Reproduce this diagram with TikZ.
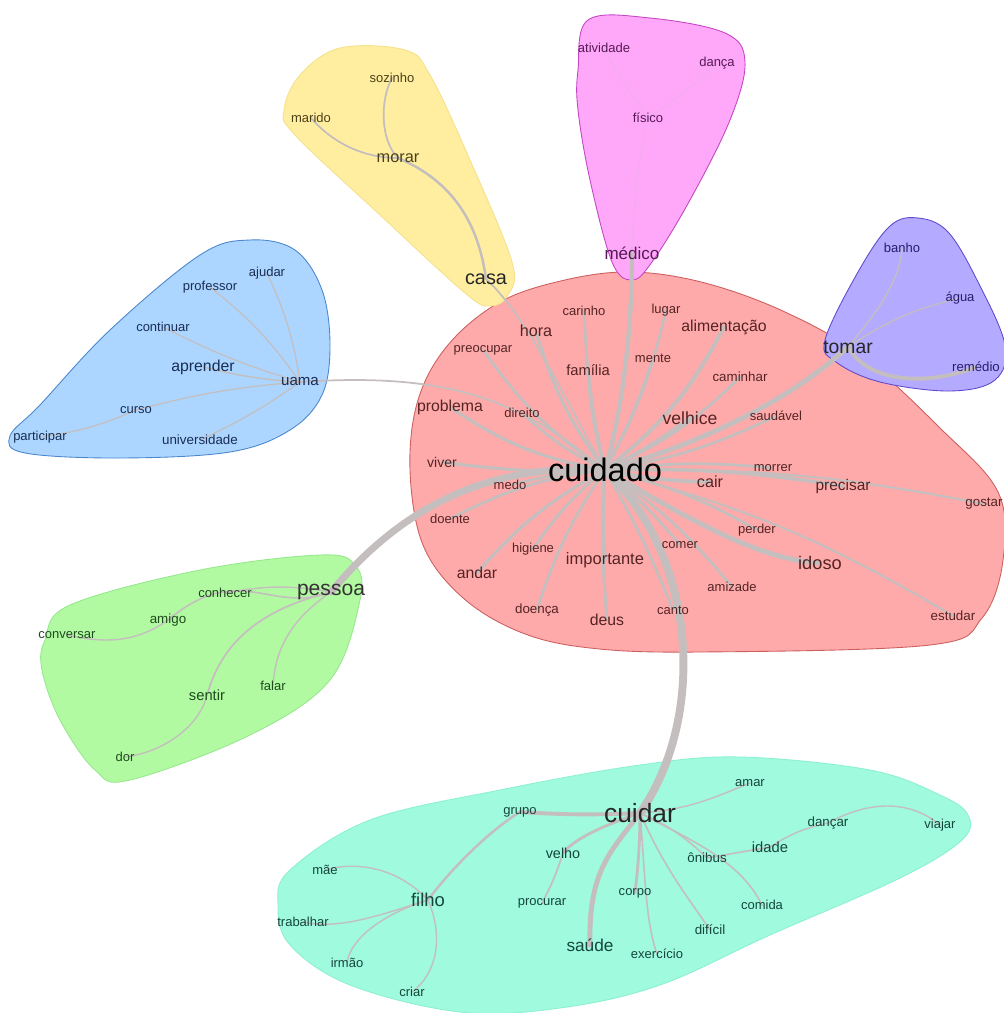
\documentclass[tikz,border=0pt]{standalone}
\usepackage{fontspec}
\setmainfont{Liberation Sans}
\usepackage{tikz}
\pgfdeclarelayer{fundo}
\pgfsetlayers{fundo,main}

\definecolor{verm}{RGB}{255,170,170}
\definecolor{vermb}{RGB}{205,95,95}
\definecolor{verml}{RGB}{85,35,35}
\definecolor{amarelo}{RGB}{255,238,160}
\definecolor{amarelob}{RGB}{245,225,140}
\definecolor{amarelol}{RGB}{75,65,25}
\definecolor{magen}{RGB}{255,168,250}
\definecolor{magenb}{RGB}{195,70,195}
\definecolor{magenl}{RGB}{85,25,85}
\definecolor{roxo}{RGB}{180,170,255}
\definecolor{roxob}{RGB}{95,75,205}
\definecolor{roxol}{RGB}{40,30,105}
\definecolor{azul}{RGB}{172,214,255}
\definecolor{azulb}{RGB}{75,135,205}
\definecolor{azull}{RGB}{25,45,85}
\definecolor{verde}{RGB}{178,250,162}
\definecolor{verdeb}{RGB}{150,232,140}
\definecolor{verdel}{RGB}{30,75,30}
\definecolor{turq}{RGB}{160,250,222}
\definecolor{turqb}{RGB}{140,240,210}
\definecolor{turql}{RGB}{20,70,60}
\definecolor{cinza}{RGB}{196,190,190}

\tikzset{
	tam/.style={font=\fontsize{#1}{#1}\selectfont, inner sep=0.5pt},
	aresta/.style={draw=cinza, line width=#1, line cap=round},
	aresta/.default=0.8pt,
	casco/.style={line width=0.5pt},
}

\begin{document}
\begin{tikzpicture}[x=0.02cm, y=-0.02cm]
	\useasboundingbox (0,0) rectangle (1003,1013);

	%cascos
	\begin{pgfonlayer}{fundo}
	\filldraw[casco, fill=verm, draw=vermb] plot[smooth cycle, tension=0.6] coordinates {(410,470) (418,400) (448,345) (500,302) (565,280) (632,272) (705,283) (785,312) (860,355) (940,428) (998,492) (1003,560) (982,618) (930,645) (700,652) (590,648) (520,632) (462,597) (423,545)};
	\filldraw[casco, fill=amarelo, draw=amarelob] plot[smooth cycle, tension=0.6] coordinates {(284,110) (300,75) (340,48) (405,50) (430,75) (470,160) (512,262) (508,295) (490,306) (465,293) (380,215) (295,135)};
	\filldraw[casco, fill=magen, draw=magenb] plot[smooth cycle, tension=0.6] coordinates {(578,70) (588,20) (650,18) (725,33) (745,62) (730,120) (690,200) (652,262) (632,280) (612,262) (590,180) (578,110)};
	\filldraw[casco, fill=roxo, draw=roxob] plot[smooth cycle, tension=0.6] coordinates {(825,340) (836,362) (880,382) (950,391) (995,380) (1005,345) (978,282) (948,232) (918,218) (890,226) (858,272)};
	\filldraw[casco, fill=azul, draw=azulb] plot[smooth cycle, tension=0.6] coordinates {(10,436) (25,453) (120,458) (230,452) (290,430) (322,395) (330,345) (322,290) (295,250) (250,240) (200,255) (110,330) (40,405)};
	\filldraw[casco, fill=verde, draw=verdeb] plot[smooth cycle, tension=0.6] coordinates {(45,640) (70,605) (200,570) (320,555) (355,565) (360,600) (330,680) (250,735) (130,780) (95,770) (60,720) (42,670)};
	\filldraw[casco, fill=turq, draw=turqb] plot[smooth cycle, tension=0.6] coordinates {(278,905) (290,870) (370,820) (500,790) (640,765) (740,757) (870,770) (940,795) (968,815) (962,840) (900,878) (770,935) (660,985) (560,1008) (460,1012) (350,985) (290,945)};
	\end{pgfonlayer}

	%grupo vermelho
	\begin{scope}[text=verml]
	\node[tam=18.5, text=black] (cuidado)	at (605,470)	{cuidado};
	\node[tam=7.4]	(carinho)		at (584,311)	{carinho};
	\node[tam=7.4]	(lugar)			at (666,310)	{lugar};
	\node[tam=9.2]	(hora)			at (536,331)	{hora};
	\node[tam=9]	(alimentacao)	at (724,327)	{alimentação};
	\node[tam=7.4]	(preocupar)		at (483,350)	{preocupar};
	\node[tam=7.4]	(mente)			at (653,358)	{mente};
	\node[tam=8.4]	(familia)		at (588,370)	{família};
	\node[tam=7.6]	(caminhar)		at (740,377)	{caminhar};
	\node[tam=9]	(problema)		at (450,407)	{problema};
	\node[tam=7.4]	(direito)		at (522,413)	{direito};
	\node[tam=10]	(velhice)		at (690,418)	{velhice};
	\node[tam=7.4]	(saudavel)		at (776,416)	{saudável};
	\node[tam=8]	(viver)			at (442,462)	{viver};
	\node[tam=7.4]	(medo)			at (510,485)	{medo};
	\node[tam=9.2]	(cair)			at (710,482)	{cair};
	\node[tam=7.4]	(morrer)		at (773,468)	{morrer};
	\node[tam=8.8]	(precisar)		at (843,486)	{precisar};
	\node[tam=7.6]	(gostar)		at (984,504)	{gostar};
	\node[tam=7.4]	(doente)		at (450,519)	{doente};
	\node[tam=7.4]	(higiene)		at (533,549)	{higiene};
	\node[tam=9.4]	(importante)	at (605,560)	{importante};
	\node[tam=7.4]	(comer)			at (680,545)	{comer};
	\node[tam=7.4]	(perder)		at (757,530)	{perder};
	\node[tam=10.4]	(idoso)			at (820,563)	{idoso};
	\node[tam=9]	(andar)			at (477,573)	{andar};
	\node[tam=7.4]	(amizade)		at (732,587)	{amizade};
	\node[tam=7.6]	(doenca)		at (537,610)	{doença};
	\node[tam=9]	(deus)			at (607,620)	{deus};
	\node[tam=7.4]	(canto)			at (673,610)	{canto};
	\node[tam=7.6]	(estudar)		at (953,616)	{estudar};
	\end{scope}

	%grupo amarelo
	\begin{scope}[text=amarelol]
	\node[tam=11.3, text=black!85]	(casa)	at (486,279)	{casa};
	\node[tam=9.3]	(morar)			at (398,158)	{morar};
	\node[tam=7.4]	(sozinho)		at (392,78)		{sozinho};
	\node[tam=7.4]	(marido)		at (311,118)	{marido};
	\end{scope}

	%grupo magenta
	\begin{scope}[text=magenl]
	\node[tam=9.7]	(medico)		at (632,253)	{médico};
	\node[tam=7.4]	(fisico)		at (648,118)	{físico};
	\node[tam=7.4]	(atividade)		at (604,48)		{atividade};
	\node[tam=7.4]	(danca)			at (717,63)		{dança};
	\end{scope}

	%grupo roxo
	\begin{scope}[text=roxol]
	\node[tam=11, text=black!85]	(tomar)	at (848,347)	{tomar};
	\node[tam=7.4]	(banho)			at (902,248)	{banho};
	\node[tam=7.4]	(agua)			at (960,298)	{água};
	\node[tam=7.5]	(remedio)		at (976,367)	{remédio};
	\end{scope}

	%grupo azul
	\begin{scope}[text=azull]
	\node[tam=8.6]	(uama)			at (300,382)	{uama};
	\node[tam=7.4]	(ajudar)		at (267,273)	{ajudar};
	\node[tam=7.4]	(professor)		at (210,287)	{professor};
	\node[tam=7.4]	(continuar)		at (163,327)	{continuar};
	\node[tam=9]	(aprender)		at (203,367)	{aprender};
	\node[tam=7.4]	(curso)			at (136,410)	{curso};
	\node[tam=7.4]	(participar)	at (40,437)		{participar};
	\node[tam=7.6]	(universidade)	at (200,440)	{universidade};
	\end{scope}

	%grupo verde
	\begin{scope}[text=verdel]
	\node[tam=12, text=black!80]	(pessoa)	at (331,592)	{pessoa};
	\node[tam=7.4]	(conhecer)		at (225,593)	{conhecer};
	\node[tam=7.6]	(amigo)			at (168,620)	{amigo};
	\node[tam=7.4]	(conversar)		at (67,635)		{conversar};
	\node[tam=8.4]	(sentir)		at (207,695)	{sentir};
	\node[tam=7.4]	(falar)			at (273,686)	{falar};
	\node[tam=7.4]	(dor)			at (125,757)	{dor};
	\end{scope}

	%grupo turquesa
	\begin{scope}[text=turql]
	\node[tam=15, text=black!85]	(cuidar)	at (640,813)	{cuidar};
	\node[tam=7.4]	(grupo)			at (520,812)	{grupo};
	\node[tam=8.2]	(velho)			at (563,853)	{velho};
	\node[tam=7.4]	(mae)			at (325,870)	{mãe};
	\node[tam=10.5]	(filho)			at (428,900)	{filho};
	\node[tam=7.4]	(procurar)		at (542,903)	{procurar};
	\node[tam=7.4]	(corpo)			at (635,893)	{corpo};
	\node[tam=7.4]	(trabalhar)		at (303,922)	{trabalhar};
	\node[tam=9.8]	(saude)			at (590,945)	{saúde};
	\node[tam=7.4]	(irmao)			at (347,963)	{irmão};
	\node[tam=7.4]	(criar)			at (412,992)	{criar};
	\node[tam=7.4]	(amar)			at (750,783)	{amar};
	\node[tam=7.6]	(dancar)		at (828,823)	{dançar};
	\node[tam=7.4]	(viajar)		at (940,825)	{viajar};
	\node[tam=7.6]	(onibus)		at (707,858)	{ônibus};
	\node[tam=8.4]	(idade)			at (770,847)	{idade};
	\node[tam=7.4]	(comida)		at (762,905)	{comida};
	\node[tam=7.6]	(dificil)		at (710,930)	{difícil};
	\node[tam=7.4]	(exercicio)		at (657,954)	{exercício};
	\end{scope}

	%arestas
	\begin{pgfonlayer}{fundo}
	\draw[aresta=4.5pt] (cuidado.center) .. controls (700,560) and (705,720) .. (cuidar.center);
	\draw[aresta=4pt] (cuidado.center) .. controls (480,462) and (395,515) .. (pessoa.center);
	\draw[aresta=2.8pt] (cuidado.center) .. controls (700,445) and (790,400) .. (tomar.center);
	\draw[aresta=2.5pt] (cuidado.center) .. controls (625,400) and (632,320) .. (medico.center);
	\draw[aresta=2.8pt] (cuidado.center) .. controls (690,520) and (760,560) .. (idoso.center);
	\draw[aresta=1pt] (cuidado.center) .. controls (565,400) and (530,320) .. (casa.center);
	\draw[aresta=1pt] (cuidado.center) .. controls (520,400) and (450,372) .. (uama.center);
	\draw[aresta=1.8pt] (cuidado.center) to[bend left=10] (hora.center);
	\draw[aresta=1.6pt] (cuidado.center) to[bend left=5] (carinho.center);
	\draw[aresta=1.6pt] (cuidado.center) to[bend right=8] (lugar.center);
	\draw[aresta=1.6pt] (cuidado.center) to[bend right=5] (mente.center);
	\draw[aresta=2.2pt] (cuidado.center) to[bend right=12] (alimentacao.center);
	\draw[aresta=2.2pt] (cuidado.center) to[bend left=5] (familia.center);
	\draw[aresta=1.6pt] (cuidado.center) to[bend right=10] (caminhar.center);
	\draw[aresta=2.2pt] (cuidado.center) to[bend right=5] (velhice.center);
	\draw[aresta=1.6pt] (cuidado.center) to[bend right=8] (saudavel.center);
	\draw[aresta=1.6pt] (cuidado.center) to[bend left=10] (preocupar.center);
	\draw[aresta=1.8pt] (cuidado.center) to[bend left=12] (problema.center);
	\draw[aresta=1.6pt] (cuidado.center) to[bend left=8] (direito.center);
	\draw[aresta=1.8pt] (cuidado.center) to[bend left=5] (viver.center);
	\draw[aresta=1.6pt] (cuidado.center) to[bend right=5] (medo.center);
	\draw[aresta=2.2pt] (cuidado.center) to[bend right=5] (cair.center);
	\draw[aresta=1.6pt] (cuidado.center) to[bend left=6] (morrer.center);
	\draw[aresta=2pt] (cuidado.center) to[bend left=5] (precisar.center);
	\draw[aresta=1.2pt] (cuidado.center) to[bend left=6] (gostar.center);
	\draw[aresta=1.6pt] (cuidado.center) to[bend right=10] (doente.center);
	\draw[aresta=1.6pt] (cuidado.center) to[bend right=8] (higiene.center);
	\draw[aresta=2.2pt] (cuidado.center) to[bend right=5] (importante.center);
	\draw[aresta=1.6pt] (cuidado.center) to[bend left=5] (comer.center);
	\draw[aresta=1.6pt] (cuidado.center) to[bend left=8] (perder.center);
	\draw[aresta=1.6pt] (cuidado.center) to[bend left=8] (amizade.center);
	\draw[aresta=1.8pt] (cuidado.center) to[bend right=10] (andar.center);
	\draw[aresta=1.6pt] (cuidado.center) to[bend right=8] (doenca.center);
	\draw[aresta=1.8pt] (cuidado.center) to[bend right=4] (deus.center);
	\draw[aresta=1.6pt] (cuidado.center) to[bend left=4] (canto.center);
	\draw[aresta=1.2pt] (cuidado.center) to[bend left=8] (estudar.center);

	%amarelo
	\draw[aresta=1.4pt] (casa.center) .. controls (478,220) and (450,180) .. (morar.center);
	\draw[aresta=1pt] (morar.center) .. controls (380,140) and (380,100) .. (sozinho.center);
	\draw[aresta=1pt] (morar.center) .. controls (360,158) and (330,140) .. (marido.center);

	%magenta
	\draw[aresta=0.7pt, draw=magen!80!cinza] (medico.center) to[bend left=5] (fisico.center);
	\draw[aresta=0.7pt, draw=magen!80!cinza] (fisico.center) to[bend left=5] (atividade.center);
	\draw[aresta=0.7pt, draw=magen!80!cinza] (fisico.center) to[bend right=5] (danca.center);

	%roxo
	\draw[aresta=2.2pt] (tomar.center) .. controls (870,385) and (930,385) .. (remedio.center);
	\draw[aresta=0.8pt] (tomar.center) .. controls (870,320) and (900,285) .. (banho.center);
	\draw[aresta=0.7pt] (tomar.center) to[bend left=10] (agua.center);

	%azul
	\draw[aresta=0.7pt] (uama.center) to[bend right=8] (ajudar.center);
	\draw[aresta=0.7pt] (uama.center) to[bend right=8] (professor.center);
	\draw[aresta=0.7pt] (uama.center) to[bend left=5] (continuar.center);
	\draw[aresta=0.8pt] (uama.center) to[bend left=5] (aprender.center);
	\draw[aresta=0.7pt] (uama.center) to[bend left=5] (universidade.center);
	\draw[aresta=0.7pt] (uama.center) to[bend right=5] (curso.center);
	\draw[aresta=0.7pt] (curso.center) to[bend left=8] (participar.center);

	%verde
	\draw[aresta=0.9pt] (pessoa.center) .. controls (270,615) and (240,560) .. (amigo.center);
	\draw[aresta=0.8pt] (pessoa.center) to[bend right=10] (conhecer.center);
	\draw[aresta=0.8pt] (amigo.center) .. controls (140,640) and (110,645) .. (conversar.center);
	\draw[aresta=1pt] (pessoa.center) .. controls (250,612) and (220,650) .. (sentir.center);
	\draw[aresta=0.8pt] (sentir.center) .. controls (200,725) and (165,752) .. (dor.center);
	\draw[aresta=0.8pt] (pessoa.center) .. controls (290,620) and (275,650) .. (falar.center);

	%turquesa
	\draw[aresta=2.2pt] (cuidar.center) to[bend left=3] (grupo.center);
	\draw[aresta=1.4pt] (grupo.center) .. controls (490,830) and (450,870) .. (filho.center);
	\draw[aresta=1.6pt] (cuidar.center) .. controls (605,825) and (575,838) .. (velho.center);
	\draw[aresta=1pt] (velho.center) to[bend left=5] (procurar.center);
	\draw[aresta=2.8pt] (cuidar.center) .. controls (612,850) and (588,870) .. (saude.center);
	\draw[aresta=1.6pt] (cuidar.center) to[bend left=3] (corpo.center);
	\draw[aresta=0.9pt] (cuidar.center) .. controls (645,870) and (645,920) .. (exercicio.center);
	\draw[aresta=0.9pt] (cuidar.center) .. controls (665,870) and (690,900) .. (dificil.center);
	\draw[aresta=0.9pt] (cuidar.center) .. controls (690,840) and (740,860) .. (comida.center);
	\draw[aresta=0.9pt] (cuidar.center) to[bend left=10] (onibus.center);
	\draw[aresta=0.9pt] (onibus.center) to (idade.center);
	\draw[aresta=0.8pt] (idade.center) to[bend left=10] (dancar.center);
	\draw[aresta=0.8pt] (dancar.center) .. controls (870,800) and (910,800) .. (viajar.center);
	\draw[aresta=0.8pt] (cuidar.center) .. controls (690,810) and (720,795) .. (amar.center);
	\draw[aresta=0.8pt] (filho.center) .. controls (400,870) and (360,860) .. (mae.center);
	\draw[aresta=0.8pt] (filho.center) .. controls (380,915) and (340,930) .. (trabalhar.center);
	\draw[aresta=0.8pt] (filho.center) .. controls (380,915) and (350,940) .. (irmao.center);
	\draw[aresta=0.8pt] (filho.center) .. controls (445,940) and (435,975) .. (criar.center);
	\end{pgfonlayer}
\end{tikzpicture}
\end{document}
